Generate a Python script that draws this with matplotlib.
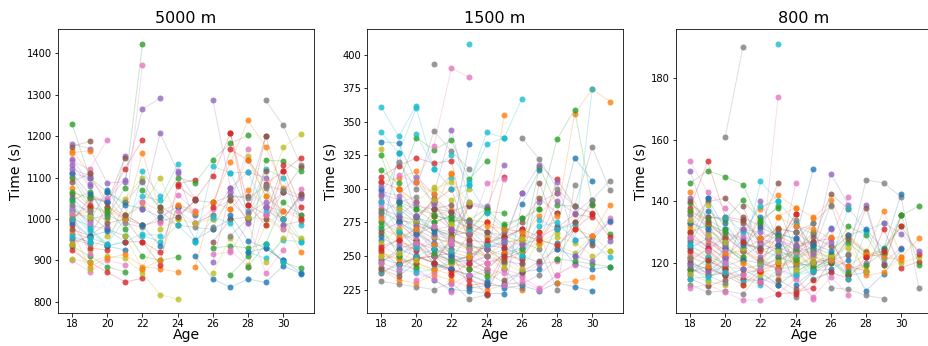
import numpy as np
import matplotlib
matplotlib.use("Agg")
import matplotlib.pyplot as plt

# chaque athlète : âge de départ + temps pour les années consécutives
events = ["5000 m", "1500 m", "800 m"]

start_5000 = [18, 18, 18, 19, 18, 18, 18, 18, 18, 18,
              18, 18, 18, 18, 18, 18, 18, 18, 18, 18,
              18, 18, 18, 18, 18, 18, 18, 19, 19, 18,
              20, 21, 20, 21, 22, 21, 22, 22, 21, 22,
              22, 22, 22, 24, 24, 23, 24, 29, 25, 25,
              25, 25, 26, 26, 26, 26, 26, 26, 26, 26,
              27, 27, 27, 27, 26, 27, 27, 27, 28, 27,
              28, 28, 28, 28, 29, 29, 29, 29, 29, 29,
              18, 18, 18, 18, 18, 18, 18, 18, 18, 18,
              18, 18, 18, 18, 18, 18, 18, 18, 18, 18]
times_5000 = [
    [1050, 1010, 975, 960], [1165, 1110, 1030, 1010, 985], [1230, 1100, 1065, 1040],
    [1055, 1040, 1122, 1190], [1182, 1170, 1087, 1090], [1175, 1188],
    [1140, 1120, 1192], [1000, 985, 975, 945], [1020, 1005, 1000, 1048, 1100],
    [1040, 980, 935, 945, 1115, 1055],
    [1025, 995, 1070, 1010], [1075, 1030, 1020, 1000, 1040, 1020], [935, 910, 885, 872],
    [925, 895, 872, 848, 857], [1130, 1080, 980, 1153], [995, 1050, 1040, 1148],
    [900, 873, 900, 890], [965, 955, 940, 1040, 1090], [903, 895, 910, 905, 870, 817, 807],
    [1010, 970, 935, 945, 965, 960],
    [955, 945, 935, 925], [970, 885, 905, 915, 885, 880, 872], [1045, 1065, 1005, 1075, 1423],
    [940, 960, 1030, 1000, 945, 920], [1110, 1100, 1045, 1095, 1265, 1292],
    [975, 960, 990, 1000, 985], [1105, 1045, 1050, 1000, 1373], [1000, 1010, 990, 980, 1005, 985],
    [925, 960, 1010, 1030, 1100, 1000], [1020, 975, 940, 1000, 1055, 1045, 1133],
    [1065, 1035, 1025, 1005, 1030, 1010], [1000, 1160, 1020, 1035, 1020], [1025, 975, 910, 900, 908],
    [945, 945, 890, 1085, 1095], [1025, 1208, 1115, 1048], [1010, 985, 995, 1005, 1045],
    [1040, 990, 1058, 1020], [1092, 1020, 985, 980, 975], [960, 880, 975, 1000, 990, 1010],
    [960, 945, 985, 945, 1000],
    [985, 935, 1030, 950, 975, 1000], [880, 900, 1035, 1015, 1040, 1025],
    [1070, 1030, 1100, 1088, 1143, 1183, 1202], [1080, 1048, 1105, 1208, 1000],
    [1110, 990, 1010, 1075, 1113, 1100], [1030, 1005, 1045, 1040, 1055, 1055, 1200],
    [1020, 990, 1025, 1045, 1170], [1287, 1226, 1130], [990, 1000, 1045, 1152, 1055, 1173, 1205],
    [945, 1127, 1112, 1020, 1120, 1100, 985],
    [910, 855, 835, 855, 847, 887, 868], [885, 1040, 1137, 1238, 1175, 1075, 1055],
    [930, 935, 930, 940, 895, 882], [1030, 1168, 1142, 1085, 1115, 1148],
    [1287, 1075, 1015, 1040, 1000, 1060], [945, 1000, 1005, 1200, 1065, 1125],
    [915, 920, 990, 870, 925, 1072], [980, 1055, 1050, 1080, 1000, 1055],
    [870, 955, 890, 985, 1020, 950], [1005, 990, 920, 905, 950, 945],
    [1010, 948, 930, 900, 870], [1025, 1070, 1030, 1000, 920], [865, 910, 1142, 1140, 1115],
    [1208, 1035, 1010, 1130, 1030], [895, 1065, 990, 1030, 1065, 1050], [1045, 1000, 1115, 1000, 1060],
    [925, 885, 1030, 1020, 1010], [960, 1000, 1075, 985, 995], [1005, 1000, 975, 955],
    [1112, 1113, 1020, 1000, 945],
    [920, 930, 900], [1142, 1055, 1020, 1000], [885, 940, 1040, 1010], [1035, 985, 1115, 1000],
    [1030, 985], [1000, 1065], [1010, 975], [1080, 1070], [895, 955], [940, 895],
    [1110, 1060, 1040], [1160, 1165], [1100, 1030, 1015], [985, 930, 925], [1120, 1105],
    [1060, 1025], [1030, 990], [950, 940], [1012, 1005], [960, 945],
    [990, 960, 970], [1005, 1020], [1065, 1050], [1000, 1035], [1145, 1085],
    [1090, 1110], [1015, 915], [1035, 1020], [940, 880], [1000, 955],
]

start_1500 = [18, 18, 18, 18, 18, 18, 18, 18, 18, 18,
              18, 18, 18, 18, 18, 18, 18, 18, 18, 18,
              18, 18, 18, 18, 18, 18, 18, 18, 18, 18,
              19, 19, 19, 19, 19, 19, 19, 19, 19, 19,
              21, 20, 20, 20, 20, 20, 20, 20, 20, 20,
              21, 21, 21, 21, 21, 22, 22, 22, 22, 22,
              23, 24, 25, 24, 24, 25, 25, 26, 26, 26,
              18, 18, 18, 18, 18, 18, 18, 18, 18, 18,
              18, 18, 18, 18, 18, 18, 18, 18, 18, 18,
              19, 20, 21, 22, 20, 21, 21, 21, 21, 23,
              28, 29, 28, 27, 29]
times_1500 = [
    [335, 334, 305, 290, 270], [305, 308, 313, 285, 312, 277], [314, 304, 338, 329, 336, 307, 321],
    [309, 317, 323, 319, 321, 262], [298, 295, 309, 296, 344, 290, 287], [285, 280, 276, 293, 283, 288],
    [292, 310, 305, 332, 390, 383], [295, 320, 300, 343, 328, 315], [330, 300, 290, 301, 292, 300],
    [361, 339, 362],
    [262, 327, 280, 270, 265, 333], [270, 265, 250, 245, 262, 277, 275, 355],
    [325, 287, 278, 275, 280, 270, 283], [305, 300, 280, 290, 300, 260, 250, 309],
    [290, 285, 275, 270, 272, 289, 286, 318], [255, 262, 270, 263, 260, 287],
    [276, 270, 255, 265, 268, 266, 304, 307], [231, 229, 227, 225, 230, 218, 221],
    [266, 260, 257, 250, 262, 255, 250], [342, 327, 360, 315, 325, 305, 333, 338, 367],
    [248, 244, 240, 232, 225, 224, 222, 222, 289, 314], [240, 232, 230, 236, 232, 227, 225, 228, 225],
    [283, 276, 275, 270, 265, 268, 283, 282], [237, 245, 248, 250, 252, 228, 230],
    [296, 292, 287, 285, 278, 270, 265, 262, 297], [245, 255, 260, 245, 263, 288, 285],
    [258, 250, 237, 233, 223, 235, 238], [242, 238, 250, 245, 240, 235, 221],
    [252, 248, 242, 239, 245, 240, 235, 240], [270, 282, 266, 260, 255, 303, 342, 338],
    [275, 268, 255, 250, 248, 240, 252, 256], [300, 290, 280, 284, 265, 275, 270, 268],
    [290, 285, 281, 276, 277, 285, 272, 278], [268, 260, 255, 250, 240, 245, 248, 253],
    [258, 255, 260, 248, 244, 250, 255, 245], [278, 272, 270, 268, 262, 260, 264, 270],
    [262, 248, 252, 246, 250, 245, 250, 240], [250, 258, 245, 240, 236, 230, 240, 226],
    [285, 275, 265, 258, 255, 258, 245, 238], [240, 238, 240, 247, 249, 258, 265, 248],
    [255, 245, 247, 258, 256, 250, 245, 272, 323, 306], [268, 258, 263, 255, 250, 260, 262, 280, 297],
    [285, 275, 280, 275, 268, 265, 260, 285], [248, 250, 240, 232, 228, 252, 265, 262, 282],
    [273, 266, 262, 258, 255, 262, 270, 290, 297], [262, 250, 245, 250, 258, 268, 275, 293, 282],
    [232, 238, 242, 245, 250, 240, 236, 244, 246], [270, 258, 255, 252, 250, 245, 260, 255, 225, 303],
    [244, 240, 245, 250, 255, 242, 254, 260, 267], [341, 315, 300, 303, 282, 270, 262],
    [243, 240, 236, 231, 226, 228, 224, 230, 227, 224], [258, 253, 249, 240, 252, 262, 268, 230, 231, 234],
    [270, 262, 257, 255, 250, 255, 316, 288, 287], [280, 270, 266, 275, 264, 270, 264, 271, 281, 279],
    [290, 283, 275, 268, 262, 258, 263, 291, 282, 292],
    [248, 266, 255, 246, 244, 304, 270, 275, 288], [229, 236, 240, 237, 234, 226, 236, 244, 265, 275],
    [252, 244, 238, 230, 229, 236, 248, 270, 292, 306], [274, 268, 264, 260, 263, 258, 264, 260, 250, 254],
    [308, 270, 258, 260, 250, 277, 270, 273, 260, 249],
    [226, 228, 228, 238, 240, 260, 244, 240, 242], [272, 270, 268, 260, 280, 356, 374, 365],
    [274, 278, 285, 337, 359, 289, 266], [222, 250, 248, 268, 307, 287, 282],
    [255, 260, 297, 318, 305, 262, 265], [232, 238, 246, 255, 275, 258],
    [228, 231, 225, 236, 243, 265, 278], [338, 322, 300, 287, 331, 299],
    [240, 262, 258, 252, 265, 254], [250, 272, 275, 262, 374],
    [265, 255, 250, 245, 240], [250, 248, 245, 240, 236], [275, 268, 262, 280, 277],
    [254, 243, 249, 245, 238], [280, 262, 266, 272, 258], [268, 275, 262, 285, 283],
    [288, 274, 264, 250, 260], [246, 252, 258, 250, 248], [260, 270, 278, 292, 274],
    [238, 243, 250, 255, 253],
    [300, 276, 266], [278, 264, 270], [272, 250, 242], [257, 262, 254], [302, 280, 290],
    [240, 235, 245], [245, 240, 260], [282, 290, 294], [250, 252, 247], [290, 268, 256],
    [290, 279, 268, 250], [305, 296, 311], [252, 246, 240, 235], [236, 245, 262, 257],
    [280, 288, 270, 266], [285, 288, 272, 268], [272, 262, 255, 245], [393],
    [300, 305, 290], [408],
    [255, 250, 262, 276], [270, 265, 288], [248, 246, 244, 242], [262, 258, 270, 281, 264],
    [250, 246, 261],
]

start_800 = [18, 18, 18, 18, 18, 18, 18, 18, 18, 18,
             18, 18, 18, 18, 18, 18, 18, 18, 18, 18,
             18, 18, 18, 18, 18, 18, 18, 18, 18, 18,
             19, 19, 19, 19, 19, 19, 19, 20, 20, 20,
             21, 22, 22, 21, 21, 21, 22, 22, 23, 23,
             23, 23, 23, 24, 24, 23, 23, 24, 24, 24,
             18, 18, 18, 18, 18, 18, 18, 18, 18, 18,
             18, 18, 18, 18, 18, 18, 18, 18, 18, 18,
             25, 26, 27, 28, 29]
times_800 = [
    [127, 141, 131, 124, 135, 128, 120], [143, 131, 126, 122, 137.5, 142, 138],
    [146, 150, 148, 145.5, 133, 138.5], [138, 153, 135, 134, 128, 126, 136],
    [150, 133, 130, 128, 140, 128, 124], [133, 140, 141, 135, 132, 146],
    [153, 143, 138, 126, 121, 118, 146], [113, 110.5, 111, 110, 117, 113, 109],
    [131, 139, 127, 130.5, 128, 125], [120, 118, 125, 121, 146.5, 140],
    [126, 137, 133, 125, 131.5, 129, 118], [129, 125, 119, 118, 117, 135, 138, 135],
    [139.5, 135, 134, 140.5, 134, 138, 124, 130], [121, 124.5, 128.5, 124, 120, 118.5, 121.5, 126],
    [135.5, 128, 122, 127.5, 122, 125, 123, 127], [116, 122, 118, 134, 127, 131.5, 130, 126],
    [112, 113, 110.5, 108, 108, 110, 115, 108.5], [118, 117, 119, 121, 117, 113, 132, 129.5],
    [124, 122, 126, 120, 117.5, 115, 116, 120], [119, 114.5, 120, 115, 113, 118, 116, 119],
    [117, 119, 116, 118, 115, 113, 117, 120.5, 131.5], [132, 127, 123, 124, 121, 119, 122, 120, 128.5],
    [130, 132.5, 125, 122, 126, 124.5, 121, 118, 122], [118, 116, 117, 115, 114, 110, 110.5, 112, 121],
    [128, 126, 121, 118, 119.5, 121, 123.5, 125, 131], [115, 112.5, 114.5, 116.5, 118, 122, 124, 128.5, 125.5],
    [123, 121, 117, 116, 114, 116.5, 119, 122, 121], [136, 132, 129, 124, 128, 130, 127.5, 133, 138.5],
    [125, 123.5, 118.5, 113, 116, 120.5, 123.5, 122, 120], [122, 120, 116.5, 114, 119, 124, 122, 115, 117],
    [141, 125, 121, 120, 118, 119, 120, 121.5, 116, 117], [128, 123, 120, 117, 118, 121, 124, 122, 116.5, 119],
    [132.5, 130, 127, 124.5, 122, 120, 119, 120.5, 116], [118.5, 116, 113, 117.5, 120, 125, 127, 128, 116],
    [129, 126, 131, 127, 123, 128, 124, 149, 139], [135, 134.5, 133, 121, 129, 126, 127, 142.5, 137.5],
    [124.5, 127, 129, 126, 127.5, 124, 123, 128, 141.5], [161, 190],
    [122, 125, 120, 124, 121, 120, 123, 129, 124], [135, 130, 138.5, 140, 133, 125, 121, 138, 130.5, 133],
    [126, 125, 129.5, 128, 150.5], [128, 131, 120, 134.5, 140.5, 129, 123, 137, 122, 128],
    [133.5, 128.5, 121, 125, 123, 132, 129, 119.5, 135.5, 138.5],
    [127, 124, 126, 136, 118, 122, 119, 117.5, 131, 118.5, 120.5],
    [131, 130, 127.5, 125.5, 120, 120.5, 127.5, 139, 120, 125],
    [138.5, 125, 131, 130, 120.5, 121, 122.5, 138, 119.5, 135.5],
    [118, 174], [121, 126, 134, 124, 139, 123, 147, 146, 141.5, 112],
    [120.5, 118, 123, 122, 128, 123, 124, 120, 122], [191],
    [126, 113, 117.5, 118, 121, 111, 116.5, 124.5], [135, 132, 131, 128, 129, 116, 117, 122],
    [117, 124.5, 118, 120, 126.5, 122, 125, 132], [110, 114.5, 117, 115, 122, 123],
    [125.5, 123, 127, 118, 120], [114.5, 111.5, 117, 120, 128, 123.5],
    [117.5, 115.5, 109, 115.5, 109.5], [130, 133, 112, 111.5, 109.5, 108.5],
    [117, 120.5, 122, 125, 117.5], [116, 117.5, 121, 115, 130.5, 121.5],
    [125, 128, 124], [137, 133, 128], [118, 121, 118], [130, 125, 122], [141, 130, 122],
    [120, 118, 116], [134, 128, 124], [127.5, 124, 119], [116.5, 114, 113], [126, 122, 120],
    [133, 131, 127], [122, 119, 123], [137, 134, 131], [124, 121, 118], [119.5, 117, 121.5],
    [140, 133.5, 128], [128.5, 124, 120], [121.5, 116, 113.5], [134, 129, 127], [115, 115.5, 117],
    [126, 124, 129, 131, 124.5, 142.5], [121, 119, 123, 122, 121],
    [117, 119.5, 123.5, 135.5, 119.5], [122, 124, 132, 123], [133, 129.5, 124],
]

starts = [start_5000, start_1500, start_800]
times = [times_5000, times_1500, times_800]
ylims = [(773, 1459), (207.5, 419), (103.8, 196)]

W, H = 928, 346
fig = plt.figure(figsize=(W / 72, H / 72), dpi=72)
lefts = [58, 367, 676]
colors = plt.rcParams["axes.prop_cycle"].by_key()["color"]

for k in range(3):
    ax = fig.add_axes([lefts[k] / W, 33 / H, 256 / W, 284 / H])
    for i, (a0, t) in enumerate(zip(starts[k], times[k])):
        ages = np.arange(a0, a0 + len(t))
        c = colors[i % 10]
        ax.plot(ages, t, "-", color=c, alpha=0.25, lw=1)
        ax.plot(ages, t, "o", color=c, alpha=0.8, ms=6, mec="none")
    ax.set_xlim(17.2, 31.75)
    ax.set_ylim(*ylims[k])
    ax.set_title(events[k], fontsize=16)
    ax.set_xlabel("Age", fontsize=14, labelpad=-1)
    ax.set_ylabel("Time (s)", fontsize=14)
    ax.tick_params(labelsize=10, pad=2.5)

fig.savefig("out.png", dpi=72)
